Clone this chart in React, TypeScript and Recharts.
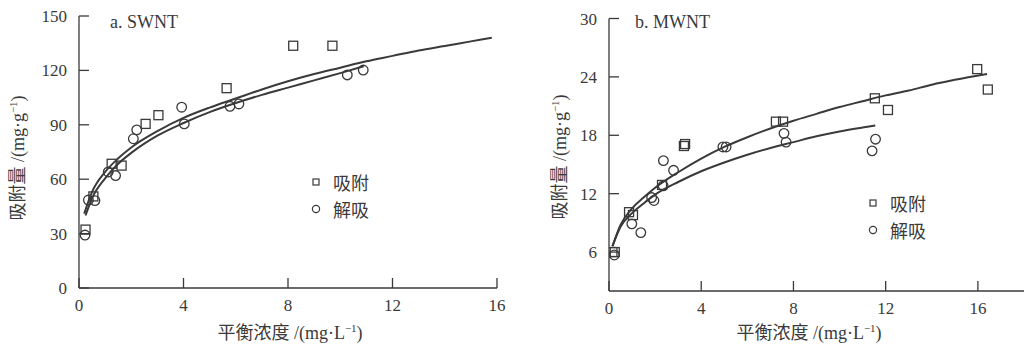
import React from 'react';
import { ComposedChart, XAxis, YAxis, Line, Scatter } from 'recharts';

// ---------- Panel a: SWNT ----------
const swntXTicks = [0, 4, 8, 12, 16];
const swntYTicks = [0, 30, 60, 90, 120, 150];

const swntAdsX = [0.25, 0.55, 1.25, 1.63, 2.55, 3.04, 5.65, 8.2, 9.7];
const swntAdsY = [32.2, 50.5, 68.5, 67.5, 90.5, 95.3, 110.2, 133.6, 133.6];

const swntDesX = [0.23, 0.36, 0.61, 1.12, 1.4, 2.08, 2.21, 3.93, 4.03, 5.78, 6.12, 10.27, 10.88];
const swntDesY = [29.2, 48.5, 48.2, 64.0, 62.0, 82.3, 87.2, 99.7, 90.5, 100.2, 101.5, 117.5, 120.2];

const swntAdsFitX = [0.2, 0.5, 1, 1.5, 2, 3, 4, 5, 6, 7, 8, 9, 10, 11, 12, 13, 14, 15, 15.8];
const swntAdsFitY = [41, 53, 64, 71.5, 77.5, 86.5, 93.8, 99.5, 104.5, 109.5, 114, 118, 121.5, 125, 128, 131, 133.5, 136, 138];

const swntDesFitX = [0.25, 0.5, 1, 1.5, 2, 3, 4, 5, 6, 7, 8, 9, 10, 10.9];
const swntDesFitY = [40, 49.5, 60.5, 68.5, 74.5, 84, 91, 97, 102, 106.5, 110.5, 114.5, 118.5, 122.3];

// ---------- Panel b: MWNT ----------
const mwntXTicks = [0, 4, 8, 12, 16];
const mwntYTicks = [6, 12, 18, 24, 30];

const mwntAdsX = [0.15, 0.25, 0.87, 1.04, 2.3, 3.25, 3.3, 7.24, 7.55, 11.53, 12.1, 15.97, 16.43];
const mwntAdsY = [6.0, 6.0, 10.1, 9.8, 12.9, 16.9, 17.1, 19.4, 19.4, 21.8, 20.6, 24.8, 22.7];

const mwntDesX = [0.23, 0.99, 1.38, 1.85, 1.95, 2.36, 2.35, 2.8, 4.94, 5.08, 7.59, 7.68, 11.41, 11.56];
const mwntDesY = [5.7, 8.9, 8.0, 11.6, 11.3, 15.4, 12.8, 14.4, 16.8, 16.8, 18.2, 17.3, 16.4, 17.6];

const mwntAdsFitX = [0.15, 0.5, 1, 1.5, 2, 3, 4, 5, 6, 7, 8, 9, 10, 11, 12, 13, 14, 15, 16.4];
const mwntAdsFitY = [6.6, 8.8, 10.5, 11.6, 12.6, 14.2, 15.6, 16.8, 17.8, 18.7, 19.5, 20.2, 20.9, 21.5, 22.1, 22.6, 23.2, 23.7, 24.3];

const mwntDesFitX = [0.15, 0.5, 1, 1.5, 2, 3, 4, 5, 6, 7, 8, 9, 10, 11, 11.55];
const mwntDesFitY = [6.6, 8.6, 10.0, 11.0, 11.9, 13.2, 14.3, 15.2, 16.0, 16.7, 17.3, 17.9, 18.4, 18.8, 19.0];

const legendAds = '吸附';
const legendDes = '解吸';
const titleA = 'a. SWNT';
const titleB = 'b. MWNT';
const xTitleCn = '平衡浓度';
const yTitleCn = '吸附量';

const zip = (xs: number[], ys: number[]) => xs.map((x, i) => ({ x, y: ys[i] }));

const INK = '#3a3a3a';
const SERIF = '"Liberation Serif", "Times New Roman", serif';
const CJK = '"Noto Sans CJK SC", "Noto Sans CJK JP", sans-serif';

const SquareMark = (props: any) => {
  const { cx, cy } = props;
  if (cx == null || cy == null) return null;
  return <rect x={cx - 4.5} y={cy - 4.5} width={9} height={9} fill="none" stroke={INK} strokeWidth={1.3} />;
};
const CircleMark = (props: any) => {
  const { cx, cy } = props;
  if (cx == null || cy == null) return null;
  return <circle cx={cx} cy={cy} r={4.8} fill="none" stroke={INK} strokeWidth={1.3} />;
};

function Panel(p: any) {
  const axisStyle = { stroke: INK, strokeWidth: 1.3 };
  const tickText = { fill: INK, fontSize: 17, fontFamily: SERIF };
  return (
    <div style={{ position: 'absolute', left: p.left, top: 0 }}>
      <ComposedChart width={p.width} height={344} margin={p.margin}>
        <XAxis
          type="number"
          dataKey="x"
          domain={p.xDomain}
          ticks={p.xTicks}
          interval={0}
          height={30}
          tickSize={-10}
          tickMargin={21}
          axisLine={axisStyle}
          tickLine={axisStyle}
          tick={tickText}
          allowDataOverflow
        />
        <YAxis
          type="number"
          dataKey="y"
          domain={p.yDomain}
          ticks={p.yTicks}
          interval={0}
          width={60}
          tickSize={-10}
          tickMargin={22}
          axisLine={axisStyle}
          tickLine={axisStyle}
          tick={tickText}
          allowDataOverflow
        />
        <Line data={p.adsFit} dataKey="y" type="monotone" stroke={INK} strokeWidth={2} dot={false} isAnimationActive={false} />
        <Line data={p.desFit} dataKey="y" type="monotone" stroke={INK} strokeWidth={2} dot={false} isAnimationActive={false} />
        <Scatter data={p.ads} dataKey="y" shape={SquareMark} isAnimationActive={false} />
        <Scatter data={p.des} dataKey="y" shape={CircleMark} isAnimationActive={false} />
      </ComposedChart>
    </div>
  );
}

const LegendSvg = ({ x, y }: { x: number; y: number }) => (
  <g>
    <rect x={x - 3} y={y - 3} width={6} height={6} fill="none" stroke={INK} strokeWidth={1.2} />
    <circle cx={x} cy={y + 27} r={3.6} fill="none" stroke={INK} strokeWidth={1.2} />
    <text x={x + 17} y={y} dominantBaseline="central" fontSize={18} fontFamily={CJK} fill={INK}>{legendAds}</text>
    <text x={x + 17} y={y + 27} dominantBaseline="central" fontSize={18} fontFamily={CJK} fill={INK}>{legendDes}</text>
  </g>
);

const Unit = ({ letter }: { letter: string }) => (
  <>
    <tspan fontFamily={SERIF}> /(mg·{letter}</tspan>
    <tspan fontFamily={SERIF} dy={-7} fontSize={11}>−1</tspan>
    <tspan fontFamily={SERIF} dy={7}>)</tspan>
  </>
);

const XTitleSvg = ({ cx }: { cx: number }) => (
  <text x={cx} y={339} textAnchor="middle" fontSize={18} fill={INK}>
    <tspan fontFamily={CJK}>{xTitleCn}</tspan>
    <Unit letter="L" />
  </text>
);
const YTitleSvg = ({ cx, cy }: { cx: number; cy: number }) => (
  <text transform={`translate(${cx},${cy}) rotate(-90)`} x={0} y={6} textAnchor="middle" fontSize={18} fill={INK}>
    <tspan fontFamily={CJK}>{yTitleCn}</tspan>
    <Unit letter="g" />
  </text>
);

export default function App() {
  return (
    <div style={{ position: 'absolute', left: 0, top: 0, width: 1025, height: 344, background: '#fff', overflow: 'hidden' }}>
      <Panel
        left={0}
        width={512}
        margin={{ top: 16, right: 15, bottom: 26, left: 19 }}
        xDomain={[0, 16]}
        xTicks={swntXTicks}
        yDomain={[0, 150]}
        yTicks={swntYTicks}
        ads={zip(swntAdsX, swntAdsY)}
        des={zip(swntDesX, swntDesY)}
        adsFit={zip(swntAdsFitX, swntAdsFitY)}
        desFit={zip(swntDesFitX, swntDesFitY)}
      />
      <Panel
        left={512}
        width={513}
        margin={{ top: 18.5, right: 1, bottom: 23, left: 37 }}
        xDomain={[0, 18]}
        xTicks={mwntXTicks}
        yDomain={[2, 30]}
        yTicks={mwntYTicks}
        ads={zip(mwntAdsX, mwntAdsY)}
        des={zip(mwntDesX, mwntDesY)}
        adsFit={zip(mwntAdsFitX, mwntAdsFitY)}
        desFit={zip(mwntDesFitX, mwntDesFitY)}
      />
      <svg style={{ position: 'absolute', left: 0, top: 0, pointerEvents: 'none' }} width={1025} height={344}>
        <text x={110} y={28} fontSize={18} fontFamily={SERIF} fill={INK}>{titleA}</text>
        <text x={635} y={28} fontSize={18} fontFamily={SERIF} fill={INK}>{titleB}</text>
        <LegendSvg x={316} y={182} />
        <LegendSvg x={873} y={203} />
        <XTitleSvg cx={290} />
        <XTitleSvg cx={809} />
        <YTitleSvg cx={18} cy={158} />
        <YTitleSvg cx={560} cy={157} />
      </svg>
    </div>
  );
}
